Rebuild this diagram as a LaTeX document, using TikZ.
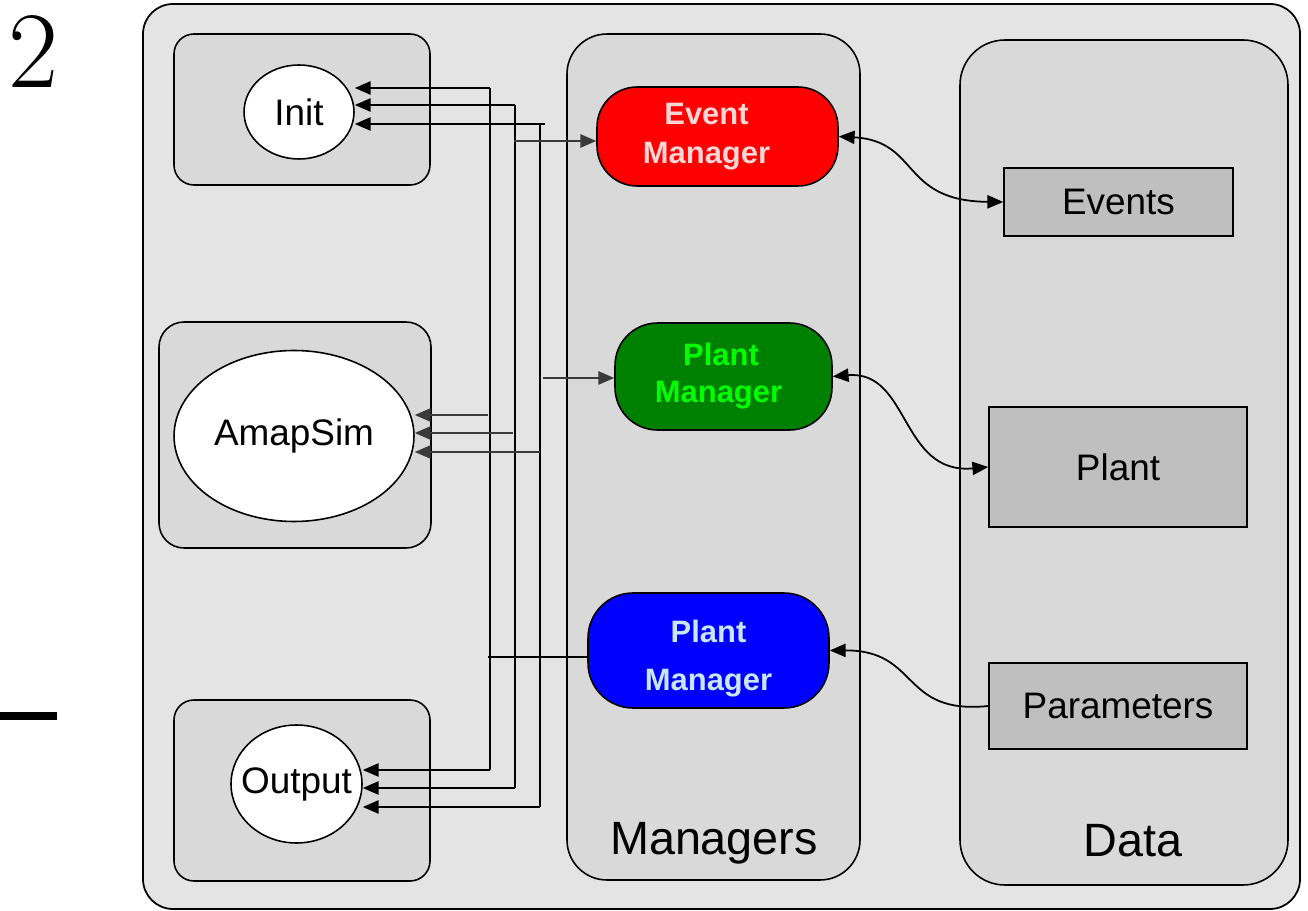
\documentclass[tikz,border=0pt]{standalone}
\usepackage{fontspec}
\newfontfamily\arial{Liberation Sans}
\usetikzlibrary{arrows.meta,shapes.geometric}
\definecolor{outerbg}{HTML}{E4E4E4}
\definecolor{panelbg}{HTML}{D9D9D9}
\definecolor{databg}{HTML}{BFBFBF}
\definecolor{evtext}{HTML}{FFD5D5}
\definecolor{pmtext}{HTML}{00FF00}
\definecolor{bmtext}{HTML}{C8E6FF}
\definecolor{darkarrow}{HTML}{3A3A3A}
\tikzset{
  panel/.style={draw=black, line width=0.9pt, fill=panelbg},
  modnode/.style={ellipse, draw=black, line width=0.9pt, fill=white, inner xsep=-12pt, inner ysep=0pt,
    font=\arial\fontsize{21}{24}\selectfont},
  mgrfont/.style={font=\arial\bfseries\fontsize{17.6}{21}\selectfont},
  mgrnode/.style={rectangle, rounded corners=#1, draw=black, line width=0.9pt, inner sep=0pt,
    align=center, mgrfont},
  datanode/.style={rectangle, draw=black, line width=0.9pt, fill=databg, inner sep=0pt,
    font=\arial\fontsize{21}{24}\selectfont},
  bus/.style={line width=1.1pt, draw=black},
  tip/.style={bus, -{Triangle[length=9pt,width=7.5pt]}},
  dtip/.style={line width=1.1pt, draw=darkarrow, -{Triangle[length=9pt,width=7.5pt]}},
  curvearr/.style={line width=1pt, draw=black},
  title/.style={font=\arial\fontsize{26.6}{30}\selectfont, inner sep=0pt}
}
\begin{document}
\begin{tikzpicture}[x=0.02cm, y=-0.02cm]
\useasboundingbox (0,0) rectangle (1308,911);
% page number and rule
\node[inner sep=0pt, font=\fontsize{62}{62}\selectfont] (pagenum) at (33,52) {2};
\fill[black] (0,712) rectangle (57,720);
% outer frame
\draw[line width=1pt, fill=outerbg, rounded corners=0.6cm] (143,4) rectangle (1300,909);
% panels
\draw[panel, rounded corners=0.4cm] (174,34) rectangle (430,185);
\draw[panel, rounded corners=0.5cm] (159,322) rectangle (431,548);
\draw[panel, rounded corners=0.4cm] (174,700) rectangle (430,881);
\draw[panel, rounded corners=0.8cm] (567,34) rectangle (860,880);
\draw[panel, rounded corners=0.9cm] (960,40) rectangle (1288,885);
% modules
\node[modnode, minimum width=2.2cm, minimum height=1.88cm] (init) at (299,112) {Init};
\node[modnode, minimum width=4.8cm, minimum height=3.42cm] (amap) at (294,436) {AmapSim};
\node[modnode, minimum width=2.62cm, minimum height=2.36cm] (out) at (296.5,784) {Output};
% managers
\node[mgrnode=0.8cm, fill=red, text=evtext, minimum width=4.82cm, minimum height=1.98cm] (em) at (717.5,136.5)
  {\hspace*{-0.44cm}Event\\[1pt]\hspace*{-0.44cm}Manager};
\node[mgrnode=0.85cm, fill={rgb,255:red,0;green,128;blue,0}, text=pmtext, minimum width=4.34cm, minimum height=2.14cm] (pm) at (723.5,376.5)
  {\hspace*{-0.1cm}Plant\\[0pt]\hspace*{-0.2cm}Manager};
\node[mgrnode=0.9cm, fill=blue, minimum width=4.82cm, minimum height=2.3cm,
  label={[mgrfont, text=bmtext, align=center, inner sep=0pt, yshift=-0.16cm]center:Plant\\[6pt]Manager}]
  (bm) at (708.5,650.5) {};
% data
\node[datanode, minimum width=4.58cm, minimum height=1.36cm] (events) at (1118.5,202) {Events};
\node[datanode, minimum width=5.16cm, minimum height=2.4cm] (plant) at (1118,467) {Plant};
\node[datanode, minimum width=5.16cm, minimum height=1.72cm] (params) at (1118,706) {Parameters};
% titles
\node[title] (mgrtitle) at (714,843) {Managers};
\node[title] (datatitle) at (1133,841) {Data};
% bus coordinates
\coordinate (b1t) at (490,88);  \coordinate (b1b) at (490,770);
\coordinate (b2t) at (515,105); \coordinate (b2b) at (515,788);
\coordinate (b3t) at (545,124); \coordinate (b3v) at (540,124); \coordinate (b3b) at (540,807);
\coordinate (a1) at (488,415); \coordinate (a2) at (513,433); \coordinate (a3) at (540,452);
\coordinate (e2) at (514,141); \coordinate (g3) at (543,378); \coordinate (bl1) at (488,657);
% vertical buses
\draw[bus] (b1t) -- (b1b);
\draw[bus] (b2t) -- (b2b);
\draw[bus] (b3v) -- (b3b);
% to Init
\draw[tip] (b1t) -- (b1t -| init.east);
\draw[tip] (b2t) -- (b2t -| init.east);
\draw[tip] (b3t) -- (b3t -| init.east);
% to AmapSim
\draw[dtip] (a1) -- (a1 -| amap.east);
\draw[dtip] (a2) -- (a2 -| amap.east);
\draw[dtip] (a3) -- (a3 -| amap.east);
% to Output
\draw[tip] (b1b) -- (b1b -| out.east);
\draw[tip] (b2b) -- (b2b -| out.east);
\draw[tip] (b3b) -- (b3b -| out.east);
% to managers
\draw[dtip] (e2) -- (e2 -| em.west);
\draw[dtip] (g3) -- (g3 -| pm.west);
\draw[bus] (bl1) -- (bl1 -| bm.west);
% manager to data curves
\draw[curvearr, {Triangle[length=9pt,width=7.5pt]}-{Triangle[length=9pt,width=7.5pt]}]
  (em.east) .. controls (920,141) and (900,201) .. (events.west);
\draw[curvearr, {Triangle[length=9pt,width=7.5pt]}-{Triangle[length=9pt,width=7.5pt]}]
  (pm.east) .. controls (910,370) and (900,475) .. (plant.west);
\draw[curvearr, -{Triangle[length=9pt,width=7.5pt]}]
  (params.west) .. controls (900,715) and (920,650) .. (bm.east);
\end{tikzpicture}
\end{document}
